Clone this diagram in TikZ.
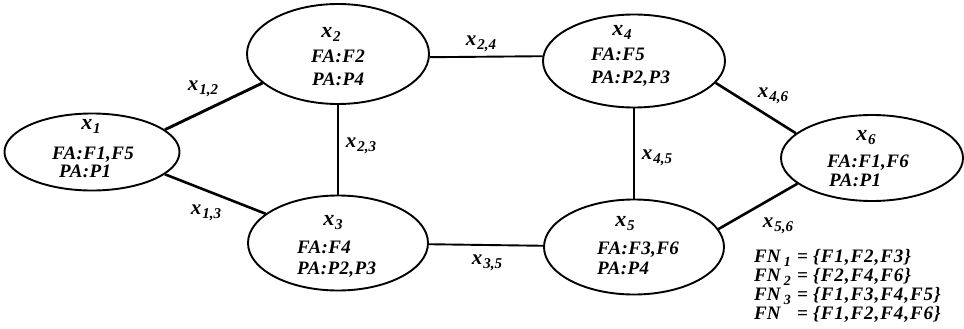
\documentclass[tikz,border=0pt]{standalone}
\usepackage{fontspec}
\setmainfont{Liberation Serif}
\usetikzlibrary{shapes.geometric}

% variable name with a lowered index, e.g. \vx{1,2}
\newcommand\vx[1]{x\kern0.8pt\raisebox{-4pt}{\fontsize{15}{15}\selectfont #1}}
\newcommand\fnsub[1]{\raisebox{-4pt}{\fontsize{14}{14}\selectfont #1}}

\begin{document}
\begin{tikzpicture}[x=1pt,y=-1pt,
  every node/.style={font=\fontsize{19}{21}\selectfont\bfseries\itshape, inner sep=0pt},
  state/.style={ellipse, draw, line width=1.9pt},
  link/.style={line width=2.6pt},
  straight/.style={line width=1.9pt},
  vname/.style={font=\fontsize{22}{22}\selectfont\bfseries\itshape},
  elabel/.style={font=\fontsize{21}{21}\selectfont\bfseries\itshape},
  attr/.style={anchor=base west, font=\fontsize{19}{21}\selectfont\bfseries\itshape\addfontfeature{LetterSpace=2}},
  fnline/.style={anchor=base west, font=\fontsize{19}{21}\selectfont\bfseries\itshape}]
\useasboundingbox (0,0) rectangle (964,329);

% states
\node[state, minimum width=175pt, minimum height=77pt]  (x1) at (92,152) {};
\node[state, minimum width=182pt, minimum height=100pt] (x2) at (338,54) {};
\node[state, minimum width=180pt, minimum height=95pt]  (x3) at (338,243) {};
\node[state, minimum width=182pt, minimum height=93pt]  (x4) at (634,61) {};
\node[state, minimum width=180pt, minimum height=95pt]  (x5) at (634,247) {};
\node[state, minimum width=182pt, minimum height=86pt]  (x6) at (872,158) {};

% state texts
\node[vname] (n1) at (91,126) {\vx{1}};
\node[attr] (fa1) at (52,159) {FA:F1,F5};
\node[attr] (pa1) at (59,177) {PA:P1};

\node[vname] (n2) at (331,34) {\vx{2}};
\node[attr] (fa2) at (311,63) {FA:F2};
\node[attr] (pa2) at (312,85) {PA:P4};

\node[vname] (n3) at (333,223) {\vx{3}};
\node[attr] (fa3) at (297,253) {FA:F4};
\node[attr] (pa3) at (297,274) {PA:P2,P3};

\node[vname] (n4) at (622,32) {\vx{4}};
\node[attr] (fa4) at (591,60) {FA:F5};
\node[attr] (pa4) at (591,84) {PA:P2,P3};

\node[vname] (n5) at (625,224) {\vx{5}};
\node[attr] (fa5) at (597,254) {FA:F3,F6};
\node[attr] (pa5) at (597,274) {PA:P4};

\node[vname] (n6) at (866,138) {\vx{6}};
\node[attr] (fa6) at (827,167) {FA:F1,F6};
\node[attr] (pa6) at (829,186) {PA:P1};

% connections
\draw[link, line width=2.9pt] (x1.17.6) -- (x2.201.4);
\draw[link] (x1.-17) -- (x3.158);
\draw[straight] (x2) -- (x3);
\draw[straight] (x2.-2) -- (x4.177.5);
\draw[straight] (x3) -- (x5);
\draw[straight] (x4) -- (x5);
\draw[link] (x4.-15) -- (x6.162);
\draw[link] (x5.12.2) -- (x6.199);

% connection labels
\node[elabel] (l12) at (203,89)  {\vx{1,2}};
\node[elabel] (l13) at (206,213) {\vx{1,3}};
\node[elabel] (l23) at (361,146) {\vx{2,3}};
\node[elabel] (l24) at (481,44)  {\vx{2,4}};
\node[elabel] (l45) at (657,158) {\vx{4,5}};
\node[elabel] (l46) at (773,96)  {\vx{4,6}};
\node[elabel] (l35) at (487,263) {\vx{3,5}};
\node[elabel] (l56) at (778,226) {\vx{5,6}};

% feature sets
\node[fnline] (fn1) at (754,262) {\makebox[43pt][l]{FN\,\fnsub{1}}\makebox[16pt][l]{=}\addfontfeature{LetterSpace=5}\{F1,F2,F3\}};
\node[fnline] (fn2) at (754,281) {\makebox[43pt][l]{FN\,\fnsub{2}}\makebox[16pt][l]{=}\addfontfeature{LetterSpace=5}\{F2,F4,F6\}};
\node[fnline] (fn3) at (754,300) {\makebox[43pt][l]{FN\,\fnsub{3}}\makebox[16pt][l]{=}\addfontfeature{LetterSpace=5}\{F1,F3,F4,F5\}};
\node[fnline] (fn4) at (754,319) {\makebox[43pt][l]{FN}\makebox[16pt][l]{=}\addfontfeature{LetterSpace=5}\{F1,F2,F4,F6\}};
\end{tikzpicture}
\end{document}
